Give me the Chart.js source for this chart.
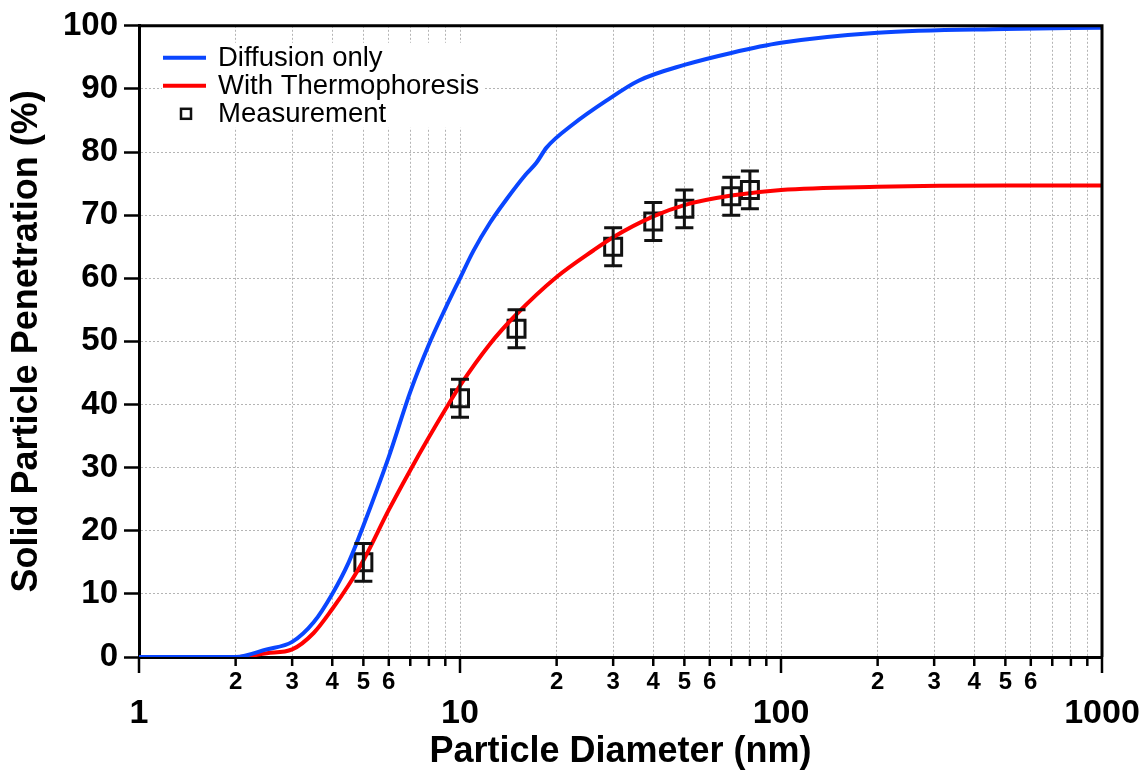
<!DOCTYPE html>
<html lang="en">
<head>
<meta charset="UTF-8">
<title>Solid Particle Penetration</title>
<script src="https://cdn.jsdelivr.net/npm/chart.js@4.4.1/dist/chart.umd.min.js"></script>
<style>
  html, body { margin: 0; padding: 0; background: #fff; }
  #wrap { width: 1148px; height: 776px; }
</style>
</head>
<body>
<div id="wrap"><canvas id="penChart"></canvas></div>
<script>
// model curve: diffusion only (diameter nm -> penetration %)
var diffD = [1, 2, 2.5, 3, 3.5, 4, 4.5, 5, 6, 7, 8, 9, 10, 11, 12.4, 14, 16, 17.3, 18.6, 22.5, 28.5, 36, 50, 70, 100, 200, 500, 1000];
var diffP = [0, 0, 1.2, 2.4, 5.5, 10, 15, 20.8, 31.7, 42, 49.5, 55.2, 60, 64.3, 68.8, 72.6, 76.4, 78.3, 80.7, 84.4, 88.1, 91.3, 93.8, 95.7, 97.3, 98.9, 99.5, 99.7];

// model curve: with thermophoresis
var thermD = [1, 2, 2.5, 3, 3.5, 4, 4.5, 5, 6, 7, 8, 9, 10, 12.4, 15, 20, 26, 30, 40, 50, 70, 100, 200, 500, 1000];
var thermP = [0, 0, 0.6, 1.2, 3.8, 7.6, 11.4, 15.3, 23.3, 29.6, 34.8, 39.2, 43, 49.6, 54.3, 60.2, 64.4, 66.5, 69.8, 71.6, 73.1, 74, 74.5, 74.7, 74.7];

// measurements with +/- error
var measD = [5, 10, 15, 30, 40, 50, 70, 80];
var measP = [15, 41, 52, 65, 69, 71, 73, 74];
var measErr = [3, 3, 3, 3, 3, 3, 3, 3];

// axis ticks
var yTicks = [0, 10, 20, 30, 40, 50, 60, 70, 80, 90, 100];
var xDecades = [1, 10, 100, 1000];
var xMantissas = [1, 2, 3, 4, 5, 6, 7, 8, 9];
var minorLabels = [2, 3, 4, 5, 6];

var FONT = "'Liberation Sans', Arial, Helvetica, sans-serif";

function isDecade(v) {
    var l = Math.log10(v);
    return Math.abs(l - Math.round(l)) < 1e-6;
}
function mantissa(v) {
    return Math.round(v / Math.pow(10, Math.floor(Math.log10(v) + 1e-9)));
}
function toXY(xs, ys) {
    return xs.map(function (x, i) { return { x: x, y: ys[i] }; });
}
function buildLogTicks(s) {
    var t = [];
    xDecades.forEach(function (d, k) {
        xMantissas.forEach(function (m) {
            if (k < xDecades.length - 1 || m === 1) t.push({ value: m * d, major: m === 1 });
        });
    });
    s.ticks = t;
}

// error bars on the measurement squares
var errorBars = {
    id: 'errorBars',
    afterDatasetsDraw: function (chart) {
        var xs = chart.scales.x, ys = chart.scales.y, ctx = chart.ctx;
        ctx.save();
        ctx.strokeStyle = '#111';
        ctx.lineWidth = 3;
        measD.forEach(function (d, i) {
            var px = xs.getPixelForValue(d);
            var lo = ys.getPixelForValue(measP[i] - measErr[i]);
            var hi = ys.getPixelForValue(measP[i] + measErr[i]);
            ctx.beginPath();
            ctx.moveTo(px, lo); ctx.lineTo(px, hi);
            ctx.moveTo(px - 9, lo); ctx.lineTo(px + 9, lo);
            ctx.moveTo(px - 9, hi); ctx.lineTo(px + 9, hi);
            ctx.stroke();
        });
        ctx.restore();
    }
};

// box frame, x tick marks and the inset legend
var frameAndLegend = {
    id: 'frameAndLegend',
    afterDraw: function (chart) {
        var a = chart.chartArea, ctx = chart.ctx, xs = chart.scales.x;
        ctx.save();
        ctx.strokeStyle = '#000';
        ctx.lineWidth = 3;
        ctx.beginPath();
        ctx.moveTo(a.left, a.top); ctx.lineTo(a.right, a.top); ctx.lineTo(a.right, a.bottom);
        ctx.stroke();

        ctx.lineWidth = 2.5;
        xs.ticks.forEach(function (t) {
            var px = xs.getPixelForValue(t.value);
            ctx.beginPath();
            ctx.moveTo(px, a.bottom);
            ctx.lineTo(px, a.bottom + (isDecade(t.value) ? 16 : 9));
            ctx.stroke();
        });

        // legend
        var lx = a.left, ly = a.top;
        ctx.fillStyle = '#fff';
        ctx.fillRect(lx + 23, ly + 17, 322, 85);
        ctx.lineWidth = 4;
        ctx.strokeStyle = chart.data.datasets[0].borderColor;
        ctx.beginPath(); ctx.moveTo(lx + 24, ly + 32); ctx.lineTo(lx + 67, ly + 32); ctx.stroke();
        ctx.strokeStyle = chart.data.datasets[1].borderColor;
        ctx.beginPath(); ctx.moveTo(lx + 24, ly + 60); ctx.lineTo(lx + 67, ly + 60); ctx.stroke();
        ctx.strokeStyle = '#111';
        ctx.lineWidth = 2.5;
        ctx.strokeRect(lx + 42, ly + 83, 10, 10);
        ctx.fillStyle = '#000';
        ctx.font = '27.5px ' + FONT;
        ctx.textBaseline = 'alphabetic';
        ctx.textAlign = 'left';
        chart.data.datasets.forEach(function (ds, i) {
            ctx.fillText(ds.label, lx + 79, ly + 40 + i * 28);
        });
        ctx.restore();
    }
};

var ctx = document.getElementById('penChart').getContext('2d');
var chart = new Chart(ctx, {
    type: 'scatter',
    data: {
        datasets: [{
            label: 'Diffusion only',
            data: toXY(diffD, diffP),
            showLine: true,
            borderColor: '#0a46ff',
            borderWidth: 4,
            pointRadius: 0,
            cubicInterpolationMode: 'monotone'
        }, {
            label: 'With Thermophoresis',
            data: toXY(thermD, thermP),
            showLine: true,
            borderColor: '#ff0000',
            borderWidth: 4,
            pointRadius: 0,
            cubicInterpolationMode: 'monotone'
        }, {
            label: 'Measurement',
            data: toXY(measD, measP),
            showLine: false,
            pointStyle: 'rect',
            pointRadius: 12,
            pointHoverRadius: 12,
            borderColor: '#111',
            borderWidth: 3,
            backgroundColor: 'rgba(0,0,0,0)'
        }]
    },
    options: {
        responsive: true,
        maintainAspectRatio: false,
        animation: false,
        layout: { padding: { top: 25, right: 46, bottom: 0, left: 0 } },
        plugins: {
            legend: { display: false },
            tooltip: { enabled: false }
        },
        scales: {
            x: {
                type: 'logarithmic',
                min: 1,
                max: 1000,
                weight: 0,
                afterBuildTicks: buildLogTicks,
                afterFit: function (s) { s.height = 35; },
                ticks: {
                    autoSkip: false,
                    maxRotation: 0,
                    padding: 11,
                    color: '#000',
                    font: { family: FONT, size: 24, weight: 'bold' },
                    callback: function (v) {
                        var m = mantissa(v);
                        return (!isDecade(v) && minorLabels.indexOf(m) >= 0) ? String(m) : '';
                    }
                },
                grid: { color: '#b4b4b4', lineWidth: 1, drawTicks: false },
                border: { color: '#000', width: 3, dash: [2, 2] }
            },
            x2: {
                type: 'logarithmic',
                position: 'bottom',
                min: 1,
                max: 1000,
                weight: 1,
                afterBuildTicks: buildLogTicks,
                afterFit: function (s) { s.height = 84; },
                ticks: {
                    autoSkip: false,
                    maxRotation: 0,
                    padding: 1,
                    color: '#000',
                    font: { family: FONT, size: 34, weight: 'bold' },
                    callback: function (v) { return isDecade(v) ? String(v) : ''; }
                },
                grid: { display: false, drawTicks: false },
                border: { display: false },
                title: {
                    display: true,
                    text: 'Particle Diameter (nm)',
                    color: '#000',
                    font: { family: FONT, size: 36, weight: 'bold' },
                    padding: { top: 0, bottom: 2 }
                }
            },
            y: {
                min: 0,
                max: 100,
                afterFit: function (s) { s.width = 139; },
                afterBuildTicks: function (s) { s.ticks = yTicks.map(function (v) { return { value: v }; }); },
                ticks: {
                    padding: 6,
                    color: '#000',
                    font: { family: FONT, size: 33, weight: 'bold' }
                },
                grid: { color: '#b4b4b4', lineWidth: 1, tickColor: '#000', tickWidth: 2.5, tickLength: 15 },
                border: { color: '#000', width: 3, dash: [2, 2] },
                title: {
                    display: true,
                    text: 'Solid Particle Penetration (%)',
                    color: '#000',
                    font: { family: FONT, size: 36, weight: 'bold' },
                    padding: { top: 5, bottom: 4 }
                }
            }
        }
    },
    plugins: [errorBars, frameAndLegend]
});
</script>
</body>
</html>
